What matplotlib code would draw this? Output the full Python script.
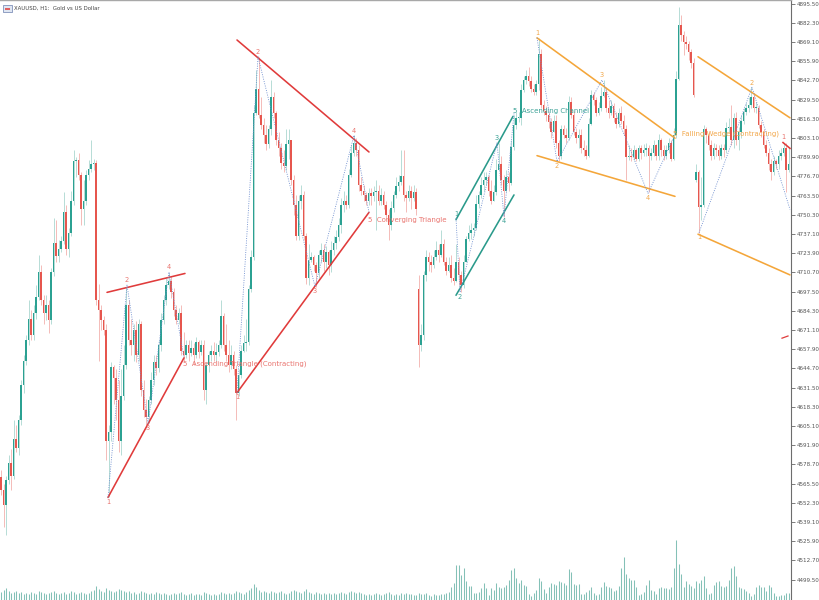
import numpy as np
import matplotlib.pyplot as plt
from matplotlib.patches import Rectangle

# XAUUSD H1 candles (open = previous close, except at gaps)
closes = [
    4561, 4551, 4568, 4580, 4571, 4596, 4590, 4609, 4633, 4650,
    4664, 4679, 4668, 4683, 4694, 4711, 4692, 4683, 4688, 4678,
    4711, 4731, 4722, 4727, 4732, 4752, 4727, 4738, 4760, 4787,
    4788, 4778, 4754, 4760, 4778, 4782, 4785, 4786, 4692, 4685,
    4678, 4671, 4595, 4601, 4646, 4638, 4623, 4595, 4626, 4647,
    4688, 4664, 4661, 4671, 4654, 4675, 4630, 4616, 4611, 4623,
    4637, 4649, 4645, 4661, 4678, 4692, 4702, 4705, 4697, 4685,
    4678, 4683, 4657, 4654, 4661, 4655, 4659, 4654, 4663, 4656,
    4661, 4630, 4647, 4654, 4657, 4654, 4656, 4661, 4681, 4661,
    4654, 4647, 4654, 4644, 4628, 4640, 4657, 4662, 4663, 4699,
    4721, 4820, 4837, 4819, 4812, 4805, 4799, 4809, 4831, 4820,
    4802, 4796, 4786, 4784, 4799, 4802, 4774, 4757, 4736, 4760,
    4764, 4736, 4707, 4719, 4721, 4716, 4710, 4723, 4726, 4718,
    4725, 4716, 4726, 4731, 4735, 4743, 4757, 4760, 4757, 4778,
    4793, 4800, 4795, 4771, 4767, 4764, 4760, 4765, 4763, 4766,
    4767, 4760, 4764, 4757, 4750, 4743, 4755, 4764, 4770, 4773,
    4777, 4764, 4762, 4767, 4762, 4766, 4754, 4661, 4668, 4709,
    4721, 4718, 4716, 4721, 4726, 4723, 4730, 4718, 4712, 4716,
    4707, 4705, 4718, 4709, 4702, 4718, 4734, 4738, 4740, 4741,
    4758, 4764, 4771, 4774, 4776, 4767, 4760, 4766, 4781, 4785,
    4774, 4767, 4776, 4772, 4797, 4812, 4817, 4817, 4836, 4843,
    4846, 4842, 4837, 4835, 4840, 4861, 4826, 4822, 4819, 4814,
    4807, 4815, 4800, 4791, 4809, 4805, 4803, 4828, 4819, 4807,
    4803, 4805, 4796, 4795, 4791, 4813, 4833, 4829, 4820, 4824,
    4832, 4835, 4824, 4820, 4825, 4817, 4813, 4820, 4815, 4809,
    4790, 4791, 4790, 4795, 4789, 4796, 4793, 4795, 4796, 4791,
    4793, 4798, 4791, 4802, 4795, 4791, 4795, 4800, 4789, 4805,
    4844, 4881, 4874, 4869, 4868, 4862, 4855, 4833, 4780, 4756,
    4757, 4809, 4805, 4798, 4791, 4796, 4795, 4791, 4796, 4795,
    4810, 4811, 4802, 4817, 4802, 4807, 4815, 4821, 4824, 4826,
    4831, 4824, 4824, 4812, 4807, 4798, 4793, 4785, 4780, 4787,
    4785, 4791, 4793, 4796, 4781, 4785,
]
highs = [
    4575, 4565, 4571, 4585, 4589, 4609, 4606, 4613, 4637, 4654,
    4668, 4692, 4685, 4688, 4702, 4723, 4716, 4695, 4695, 4692,
    4714, 4748, 4747, 4733, 4736, 4766, 4757, 4741, 4767, 4795,
    4790, 4793, 4780, 4774, 4781, 4788, 4802, 4789, 4788, 4703,
    4688, 4681, 4675, 4606, 4649, 4647, 4644, 4637, 4644, 4661,
    4701, 4692, 4679, 4675, 4677, 4679, 4677, 4637, 4624, 4626,
    4642, 4654, 4654, 4664, 4683, 4695, 4707, 4710, 4708, 4700,
    4688, 4686, 4688, 4670, 4664, 4664, 4664, 4662, 4666, 4664,
    4664, 4664, 4649, 4657, 4661, 4663, 4662, 4664, 4692, 4683,
    4675, 4664, 4661, 4657, 4647, 4644, 4661, 4668, 4679, 4702,
    4726, 4826, 4850, 4859, 4831, 4817, 4812, 4812, 4843, 4835,
    4822, 4807, 4800, 4795, 4809, 4809, 4800, 4778, 4764, 4764,
    4771, 4767, 4738, 4730, 4725, 4723, 4718, 4726, 4731, 4730,
    4729, 4726, 4732, 4736, 4740, 4748, 4762, 4767, 4764, 4782,
    4798, 4805, 4803, 4798, 4776, 4771, 4766, 4769, 4769, 4770,
    4774, 4771, 4769, 4767, 4760, 4754, 4760, 4767, 4776, 4778,
    4795, 4795, 4767, 4771, 4770, 4771, 4769, 4709, 4675, 4712,
    4726, 4725, 4723, 4726, 4732, 4730, 4740, 4734, 4721, 4721,
    4723, 4714, 4730, 4721, 4712, 4723, 4736, 4743, 4745, 4745,
    4764, 4767, 4776, 4780, 4780, 4778, 4774, 4771, 4789, 4800,
    4791, 4778, 4781, 4780, 4802, 4819, 4821, 4821, 4840, 4846,
    4850, 4852, 4846, 4840, 4843, 4872, 4864, 4829, 4825, 4821,
    4817, 4819, 4819, 4802, 4812, 4812, 4810, 4832, 4831, 4822,
    4810, 4809, 4809, 4802, 4798, 4817, 4836, 4835, 4831, 4828,
    4838, 4843, 4838, 4829, 4829, 4827, 4821, 4824, 4825, 4819,
    4812, 4798, 4796, 4798, 4796, 4798, 4798, 4799, 4800, 4798,
    4796, 4802, 4799, 4806, 4803, 4798, 4798, 4803, 4802, 4810,
    4849, 4893, 4888, 4877, 4873, 4870, 4864, 4858, 4785, 4781,
    4776, 4812, 4811, 4807, 4802, 4800, 4799, 4798, 4799, 4799,
    4814, 4817, 4826, 4820, 4821, 4811, 4819, 4824, 4827, 4831,
    4838, 4833, 4828, 4826, 4815, 4809, 4802, 4796, 4789, 4791,
    4789, 4795, 4796, 4800, 4800, 4796,
]
lows = [
    4558, 4536, 4530, 4565, 4561, 4569, 4587, 4585, 4606, 4628,
    4647, 4661, 4664, 4664, 4679, 4692, 4688, 4675, 4678, 4669,
    4675, 4708, 4718, 4718, 4725, 4730, 4723, 4721, 4736, 4757,
    4776, 4774, 4743, 4743, 4757, 4774, 4780, 4781, 4688, 4650,
    4671, 4668, 4582, 4556, 4595, 4620, 4609, 4587, 4585, 4623,
    4644, 4661, 4654, 4650, 4649, 4650, 4626, 4611, 4606, 4607,
    4620, 4633, 4640, 4642, 4657, 4675, 4688, 4699, 4693, 4681,
    4675, 4675, 4654, 4650, 4652, 4650, 4653, 4647, 4652, 4652,
    4654, 4623, 4620, 4642, 4650, 4650, 4650, 4653, 4659, 4657,
    4650, 4642, 4644, 4640, 4609, 4626, 4638, 4656, 4657, 4661,
    4697, 4719, 4819, 4817, 4809, 4800, 4795, 4796, 4805, 4817,
    4798, 4791, 4782, 4780, 4781, 4789, 4771, 4750, 4733, 4733,
    4754, 4733, 4703, 4702, 4718, 4712, 4701, 4707, 4718, 4712,
    4714, 4709, 4711, 4723, 4727, 4732, 4738, 4752, 4754, 4755,
    4776, 4791, 4791, 4767, 4764, 4760, 4757, 4757, 4757, 4760,
    4740, 4757, 4757, 4754, 4747, 4733, 4740, 4752, 4762, 4767,
    4771, 4760, 4752, 4760, 4754, 4760, 4750, 4646, 4657, 4664,
    4705, 4712, 4711, 4714, 4719, 4718, 4721, 4716, 4709, 4711,
    4704, 4702, 4704, 4702, 4697, 4700, 4718, 4732, 4734, 4736,
    4740, 4755, 4762, 4767, 4771, 4763, 4758, 4760, 4764, 4781,
    4771, 4749, 4766, 4767, 4771, 4795, 4809, 4814, 4812, 4835,
    4840, 4839, 4835, 4833, 4833, 4836, 4824, 4819, 4815, 4810,
    4803, 4810, 4796, 4787, 4789, 4803, 4800, 4802, 4817, 4805,
    4800, 4796, 4793, 4791, 4789, 4790, 4812, 4826, 4818, 4819,
    4822, 4831, 4821, 4817, 4819, 4814, 4810, 4811, 4813, 4805,
    4774, 4788, 4787, 4788, 4787, 4787, 4789, 4791, 4791, 4766,
    4788, 4791, 4788, 4788, 4791, 4788, 4789, 4793, 4787, 4788,
    4803, 4843, 4870, 4860, 4864, 4857, 4851, 4831, 4773, 4738,
    4747, 4756, 4800, 4795, 4788, 4789, 4791, 4788, 4789, 4790,
    4793, 4807, 4798, 4796, 4798, 4795, 4803, 4813, 4819, 4821,
    4824, 4821, 4820, 4810, 4804, 4796, 4791, 4781, 4774, 4778,
    4782, 4782, 4788, 4791, 4766, 4780,
]
gap_opens = {0: 4570, 167: 4699, 278: 4774}

tick_volume = [
    4000, 5000, 6000, 4500, 3500, 4000, 4500, 3500, 4000, 3000,
    3500, 3000, 4000, 3500, 3000, 4500, 4000, 3500, 3000, 3500,
    4000, 4500, 3500, 3000, 3500, 4000, 3000, 3500, 4500, 4000,
    3000, 3500, 4000, 3500, 3000, 3500, 4500, 5000, 7000, 5500,
    4500, 4000, 6000, 5000, 4500, 4000, 4500, 5500, 5000, 4500,
    4000, 4500, 3500, 4000, 3000, 3500, 4500, 4000, 3500, 3000,
    3500, 3000, 4000, 3500, 3000, 3500, 3000, 2500, 3000, 3500,
    3000, 3500, 4000, 3000, 2500, 3000, 3500, 2500, 3000, 3000,
    2500, 4000, 3500, 3000, 2500, 3000, 2500, 3000, 4000, 3500,
    3000, 3500, 3000, 3500, 4500, 4000, 3500, 3000, 4000, 5000,
    6000, 8000, 6500, 5000, 4000, 4500, 4000, 3500, 4500, 4000,
    3500, 4000, 4500, 3500, 3000, 3500, 4500, 5000, 4500, 4000,
    3500, 4500, 5500, 4000, 3500, 3000, 4000, 3500, 3000, 3500,
    3000, 3500, 3000, 3500, 3000, 3500, 4000, 3500, 3000, 4000,
    4500, 4000, 3500, 4000, 3500, 3000, 2500, 3000, 2500, 3000,
    3500, 3000, 2500, 3000, 3500, 4000, 3000, 2500, 3000, 2500,
    3500, 3000, 3500, 3000, 3000, 2500, 2500, 3500, 3000, 3000,
    3500, 2500, 2000, 3000, 2500, 2500, 3000, 3000, 3500, 4000,
    6500, 8500, 17500, 17500, 12500, 16000, 9500, 7000, 7000, 3500,
    3500, 4000, 6000, 8500, 6000, 2500, 6000, 5000, 8500, 6500,
    6000, 6500, 7500, 10000, 15000, 16000, 11000, 8500, 10000, 7500,
    7000, 3000, 2000, 3500, 5000, 11000, 9500, 5500, 3500, 6500,
    8500, 8000, 7500, 9500, 9000, 8500, 7500, 15500, 14000, 8000,
    7500, 8000, 3000, 3000, 4000, 5000, 6500, 3500, 2500, 3000,
    6500, 9000, 7000, 6500, 6000, 4500, 5000, 7000, 16000, 21500,
    13000, 11000, 10000, 10000, 6500, 2500, 3000, 4000, 7500, 10000,
    5000, 4500, 3000, 6000, 6500, 6000, 6000, 5500, 6500, 16000,
    30000, 18000, 13000, 6500, 9500, 8000, 7000, 6000, 9500, 8500,
    10000, 12000, 6000, 3000, 3500, 7500, 9000, 9500, 7000, 6500,
    7000, 10000, 16000, 17000, 12000, 6500, 6000, 5500, 4500, 3500,
    2000, 3000, 6500, 7500, 6500, 6500, 4500, 7500, 6500, 3500,
    2000, 2000, 2500, 2500, 3500, 3500,
]

price_ticks = [4895.5, 4882.3, 4869.1, 4855.9, 4842.7, 4829.5, 4816.3, 4803.1,
               4789.9, 4776.7, 4763.5, 4750.3, 4737.1, 4723.9, 4710.7, 4697.5,
               4684.3, 4671.1, 4657.9, 4644.7, 4631.5, 4618.3, 4605.1, 4591.9,
               4578.7, 4565.5, 4552.3, 4539.1, 4525.9, 4512.7, 4499.5]

# chart patterns: pivots (bar index, price), boundary lines, label sides
asc_tri_x = [42.8, 50.4, 58.8, 67.2, 73.2]
asc_tri_y = [4556, 4702, 4607, 4711, 4652]
asc_tri_upper = ([42.4, 73.6], [4697, 4710])
asc_tri_lower = ([42.8, 73.2], [4556, 4652])

conv_tri_x = [94.4, 102.8, 125.6, 141.2, 147.2]
conv_tri_y = [4628, 4859, 4701, 4805, 4752]
conv_tri_upper = ([94.4, 147.2], [4870.5, 4793.5])
conv_tri_lower = ([94.4, 147.2], [4628, 4752])

asc_ch_x = [182, 183.6, 198.4, 201.2, 205.2]
asc_ch_y = [4748, 4697, 4800, 4749, 4820]
asc_ch_upper = ([182, 204.8], [4747, 4818])
asc_ch_lower = ([182, 205.2], [4695, 4764])

wedge_x = [214.4, 222.4, 240.4, 258.8, 269.2]
wedge_y = [4872, 4787, 4843, 4765, 4804]
wedge_upper = ([214.4, 269.6], [4872, 4803])
wedge_lower = ([214.4, 269.6], [4791, 4763])

wedge2_x = [279.2, 300.4, 315.6]
wedge2_y = [4738, 4838, 4754]
wedge2_upper = ([278.8, 315.6], [4859, 4817])
wedge2_lower = ([278.8, 315.6], [4737, 4709])

RED, RED_TXT = '#e03b3b', '#e9746f'
TEAL, TEAL_TXT = '#2a9a8b', '#3ba196'
ORANGE, ORANGE_TXT = '#f4a63a', '#f2a84c'

patterns = [
    dict(px=asc_tri_x, py=asc_tri_y, lines=[asc_tri_upper, asc_tri_lower],
         color=RED, tcolor=RED_TXT, sides='lhlh',
         name='5  Ascending Triangle (Contracting)', name_y=4648),
    dict(px=conv_tri_x, py=conv_tri_y, lines=[conv_tri_upper, conv_tri_lower],
         color=RED, tcolor=RED_TXT, sides='lhlh',
         name='5  Converging Triangle', name_y=4747),
    dict(px=asc_ch_x, py=asc_ch_y, lines=[asc_ch_upper, asc_ch_lower],
         color=TEAL, tcolor=TEAL_TXT, sides='hlhl',
         name='5  Ascending Channel', name_y=4822),
    dict(px=wedge_x, py=wedge_y, lines=[wedge_upper, wedge_lower],
         color=ORANGE, tcolor=ORANGE_TXT, sides='hlhl',
         name='5  Falling Wedge (Contracting)', name_y=4806),
    dict(px=wedge2_x, py=wedge2_y, lines=[wedge2_upper, wedge2_lower],
         color=ORANGE, tcolor=ORANGE_TXT, sides='lh',
         name=None, name_y=None),
]

# --- build OHLC arrays
n = len(closes)
idx = np.arange(n)
c = np.array(closes, float)
opens = [gap_opens[i] if i in gap_opens else closes[i - 1] for i in range(n)]
o = np.array(opens, float)
h = np.maximum(np.array(highs, float), np.maximum(o, c))
l = np.minimum(np.array(lows, float), np.minimum(o, c))
up = c >= o

BULL, BEAR = '#2ba192', '#e6564e'
BULL_W, BEAR_W = '#a3d3cb', '#f1aaa6'

fig = plt.figure(figsize=(8.2, 6), dpi=100)
rect = [0, 0, 791 / 820, 1]
ax = fig.add_axes(rect)
ax.set_xlim(-0.4, 316)
ax.set_ylim(4485.5, 4898)

# wicks and bodies
ax.vlines(idx, l, h, colors=np.where(up, BULL_W, BEAR_W), lw=0.55, zorder=2)
body_h = np.maximum(np.abs(c - o), 0.35)
ax.bar(idx, body_h, bottom=np.minimum(o, c), width=0.56,
       color=np.where(up, BULL, BEAR), linewidth=0, zorder=3)

# patterns
for p in patterns:
    for xs, ys in p['lines']:
        ax.plot(xs, ys, color=p['color'], lw=1.15, solid_capstyle='round', zorder=4)
    ax.plot(p['px'], p['py'], color='#6f8fcf', lw=0.6, ls=(0, (1.2, 1.6)), zorder=4)
    for k, side in enumerate(p['sides']):
        dy, va = (1.2, 'bottom') if side == 'h' else (-1.2, 'top')
        ax.annotate(str(k + 1), (p['px'][k], p['py'][k]), xytext=(0, dy),
                    textcoords='offset points', ha='center', va=va,
                    fontsize=4.8, color=p['tcolor'], zorder=5)
    if p['name']:
        ax.text(p['px'][4] - 0.4, p['name_y'], p['name'], fontsize=5.0,
                color=p['tcolor'], ha='left', va='center', zorder=5)

# fresh red pattern start at the right edge
ax.plot([312.8, 315.6], [4800, 4796], color=RED, lw=1.15, zorder=4)
ax.text(312.8, 4804, '1', fontsize=4.8, color=RED_TXT, ha='center', va='center')
ax.plot([312.4, 314.8], [4665.5, 4667], color=RED, lw=0.9, zorder=4)

# price scale on the right
ax.yaxis.tick_right()
ax.set_yticks(price_ticks)
ax.set_yticklabels([f'{t:.2f}' for t in price_ticks])
ax.tick_params(axis='y', direction='out', length=3, width=0.6, color='#666',
               labelsize=4.1, labelcolor='#555', pad=1.2)
ax.set_xticks([])
for s in ('left', 'bottom'):
    ax.spines[s].set_visible(False)
ax.spines['right'].set_color('#6d6d6d')
ax.spines['right'].set_linewidth(0.8)
ax.spines['top'].set_color('#a8a8a8')
ax.spines['top'].set_linewidth(1.0)

# tick volume overlay at the bottom
vax = fig.add_axes(rect, sharex=ax)
vax.set_ylim(0, 300000)
vax.vlines(idx, 0, tick_volume, colors='#84c1b7', lw=0.75)
vax.axis('off')

# header
fig.add_artist(Rectangle((3 / 820, 1 - 12 / 600), 9 / 820, 7 / 600,
                         transform=fig.transFigure, facecolor='#dfe6f2',
                         edgecolor='#6b7fae', lw=0.5))
fig.add_artist(Rectangle((5 / 820, 1 - 10 / 600), 5 / 820, 2 / 600,
                         transform=fig.transFigure, facecolor='#e06060', lw=0))
fig.text(14 / 820, 1 - 8 / 600, 'XAUUSD, H1:  Gold vs US Dollar',
         fontsize=3.9, color='#444444', va='center', ha='left')

fig.savefig('out.png', dpi=100)
